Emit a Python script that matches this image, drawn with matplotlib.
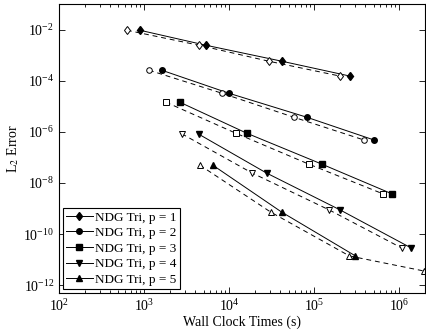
""" Wall clock time vs L2 error for NDG triangles. """
import matplotlib
matplotlib.use('Agg')
import matplotlib.pyplot as plt
from matplotlib.ticker import LogLocator, NullFormatter, NullLocator

plt.rcParams['font.family'] = ['Liberation Serif', 'DejaVu Serif']
plt.rcParams['mathtext.fontset'] = 'stix'

orders = [1, 2, 3, 4, 5]
markers = ['d', 'o', 's', 'v', '^']

# filled markers / solid lines
time_solid = [
    [892, 5300, 41300, 266000],
    [1610, 9860, 81100, 509000],
    [2620, 16000, 122000, 828000],
    [4390, 27500, 203000, 1.38e6],
    [6400, 41300, 305000],
]
err_solid = [
    [9.4e-3, 2.44e-3, 5.8e-4, 1.5e-4],
    [2.57e-4, 3.25e-5, 3.75e-6, 4.74e-7],
    [1.45e-5, 8.9e-7, 5.5e-8, 3.7e-9],
    [8.1e-7, 2.44e-8, 8.7e-10, 2.86e-11],
    [5.0e-8, 7.3e-10, 1.4e-11],
]
# open markers / dashed lines
time_dash = [
    [628, 4390, 29000, 203000],
    [1140, 8170, 57100, 388000],
    [1800, 11900, 85700, 649000],
    [2770, 18400, 151000, 1.08e6],
    [4510, 30700, 259000, 1.95e6],
]
err_dash = [
    [9.4e-3, 2.44e-3, 5.8e-4, 1.5e-4],
    [2.57e-4, 3.25e-5, 3.75e-6, 4.74e-7],
    [1.45e-5, 8.9e-7, 5.5e-8, 3.7e-9],
    [8.4e-7, 2.5e-8, 8.7e-10, 2.8e-11],
    [5.0e-8, 7.3e-10, 1.4e-11, 3.6e-12],
]

fig = plt.figure(figsize=(4.26, 3.31), dpi=100)
ax = fig.add_axes([0.1385, 0.115, 0.859, 0.873])

for p, m, ts, es, td, ed in zip(orders, markers, time_solid, err_solid,
                                time_dash, err_dash):
    ms = 4.5 if m == 'd' else 4
    ax.plot(ts, es, '-', color='k', lw=0.7, marker=m, ms=ms,
            mfc='k', mec='k', label=f'NDG Tri, p = {p}')
    ax.plot(td, ed, '--', color='k', lw=0.7, marker=m, ms=ms,
            mfc='white', mec='k', mew=0.7, dashes=(5, 4))

ax.set_xscale('log')
ax.set_yscale('log')
ax.set_xlim(1e2, 2e6)
ax.set_ylim(5e-13, 1e-1)
ax.yaxis.set_major_locator(LogLocator(base=100.0, numticks=10))
ax.yaxis.set_minor_locator(NullLocator())
ax.xaxis.set_minor_locator(LogLocator(base=10.0, subs=range(2, 10), numticks=20))
ax.xaxis.set_minor_formatter(NullFormatter())
ax.tick_params(which='both', direction='in', top=True, right=True,
               labelsize=10, width=0.6)
ax.tick_params(which='major', length=4)
ax.tick_params(which='minor', length=2)
for s in ax.spines.values():
    s.set_linewidth(0.8)

ax.set_xlabel('Wall Clock Times (s)', fontsize=10, labelpad=1)
ax.set_ylabel('L$_2$ Error', fontsize=10, labelpad=2)

leg = ax.legend(loc='lower left', fontsize=9.5, handlelength=2.0,
                handletextpad=0.2, labelspacing=0.25, borderpad=0.25,
                borderaxespad=0.3, fancybox=False, framealpha=1,
                edgecolor='k')
leg.get_frame().set_linewidth(0.8)

fig.savefig('out.png', dpi=100)
